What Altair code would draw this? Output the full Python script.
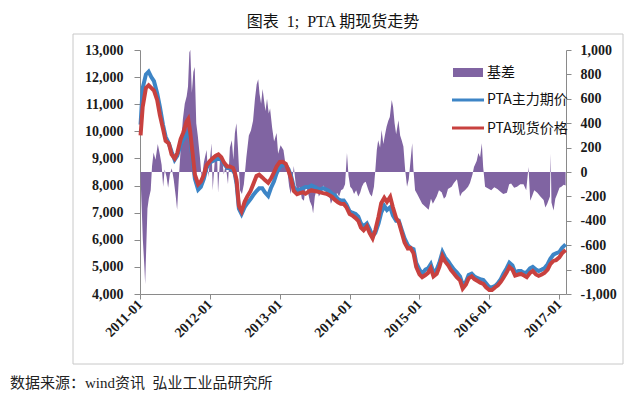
import altair as alt
import pandas as pd

TITLE = ["图表\u00a0\u00a01;\u00a0\u00a0PTA 期现货走势"]
SOURCE = ["数据来源：wind资讯\u00a0\u00a0弘业工业品研究所"]
SERIES = ["基差", "PTA主力期价", "PTA现货价格"]
COLORS = ["#8064A2", "#3D85C6", "#C8413F"]

price_dates = [
    "2011-01-04", "2011-01-15", "2011-02-01", "2011-02-15", "2011-03-01", "2011-03-15",
    "2011-04-01", "2011-04-15", "2011-05-01", "2011-05-15", "2011-06-01", "2011-06-15",
    "2011-07-01", "2011-07-15", "2011-08-01", "2011-08-15", "2011-09-01", "2011-09-10",
    "2011-09-20", "2011-10-01", "2011-10-15", "2011-11-01", "2011-11-15", "2011-12-01",
    "2011-12-15",
    "2012-01-01", "2012-01-15", "2012-02-01", "2012-02-15", "2012-03-01", "2012-03-15",
    "2012-04-01", "2012-04-15", "2012-05-01", "2012-05-10", "2012-05-20", "2012-06-01",
    "2012-06-15", "2012-07-01", "2012-07-15", "2012-08-01", "2012-08-15", "2012-09-01",
    "2012-09-15", "2012-10-01", "2012-10-15", "2012-11-01", "2012-11-15", "2012-12-01",
    "2012-12-15",
    "2013-01-01", "2013-01-15", "2013-02-01", "2013-02-15", "2013-03-01", "2013-03-15",
    "2013-04-01", "2013-04-15", "2013-05-01", "2013-05-15", "2013-06-01", "2013-06-15",
    "2013-07-01", "2013-07-15", "2013-08-01", "2013-08-15", "2013-09-01", "2013-09-15",
    "2013-10-01", "2013-10-15", "2013-11-01", "2013-11-15", "2013-12-01", "2013-12-15",
    "2014-01-01", "2014-01-15", "2014-02-01", "2014-02-15", "2014-03-01", "2014-03-15",
    "2014-04-01", "2014-04-15", "2014-05-01", "2014-05-15", "2014-06-01", "2014-06-15",
    "2014-07-01", "2014-07-15", "2014-08-01", "2014-08-15", "2014-09-01", "2014-09-15",
    "2014-10-01", "2014-10-15", "2014-11-01", "2014-11-15", "2014-12-01", "2014-12-15",
    "2015-01-01", "2015-01-15", "2015-02-01", "2015-02-15", "2015-03-01", "2015-03-15",
    "2015-04-01", "2015-04-15", "2015-05-01", "2015-05-15", "2015-06-01", "2015-06-15",
    "2015-07-01", "2015-07-15", "2015-08-01", "2015-08-15", "2015-09-01", "2015-09-15",
    "2015-10-01", "2015-10-15", "2015-11-01", "2015-11-15", "2015-12-01", "2015-12-15",
    "2016-01-01", "2016-01-15", "2016-02-01", "2016-02-15", "2016-03-01", "2016-03-15",
    "2016-04-01", "2016-04-15", "2016-05-01", "2016-05-15", "2016-06-01", "2016-06-15",
    "2016-07-01", "2016-07-15", "2016-08-01", "2016-08-15", "2016-09-01", "2016-09-15",
    "2016-10-01", "2016-10-15", "2016-11-01", "2016-11-15", "2016-12-01", "2016-12-15",
    "2017-01-01", "2017-01-15", "2017-02-03",
]

spot = [
    9850, 10900, 11600, 11700, 11600, 11500, 11150, 10600, 10100, 9650, 9550, 9150,
    9000, 9200, 9700, 9950, 10350, 10450, 10000, 9300, 8400, 8050, 8150, 8400, 8750,
    8900, 9000, 9100, 9150, 9050, 8850, 8700, 8700, 8650, 8500, 8200, 7250,
    7050, 7400, 7600, 7800, 8050, 8350, 8400, 8300, 8200, 8100, 8250, 8480, 8700,
    8870, 8880, 8800, 8550, 8250, 7800, 7680, 7720, 7750, 7700, 7780, 7820,
    7800, 7780, 7750, 7720, 7700, 7650, 7580, 7480, 7380, 7330, 7320, 7200,
    6950, 6900, 6800, 6700, 6450, 6350, 6500, 6250, 6050, 6350, 6850, 7350,
    7550, 7400, 7580, 7200, 6800, 6650, 6250, 5900, 5680, 5700, 5500, 5000,
    4720, 4620, 4700, 4780, 4950, 4650, 4750, 5000, 5400, 5200, 5050, 4880,
    4750, 4620, 4500, 4200, 4350, 4580, 4650, 4550, 4480, 4420, 4370, 4250,
    4150, 4150, 4250, 4320, 4450, 4600, 4800, 5000, 4900, 4680, 4720, 4740,
    4680, 4620, 4780, 4850, 4720, 4670, 4720, 4780, 4900, 5100, 5220, 5250,
    5350, 5500, 5620,
]

futures = [
    10250, 11600, 12100, 12200, 12000, 11850, 11400, 10900, 10250, 9800, 9550, 9250,
    8950, 9100, 9500, 9700, 9850, 9950, 9750, 9100, 8250, 7850, 7950, 8250, 8650,
    8850, 8900, 8950, 9000, 8950, 8800, 8650, 8650, 8550, 8450, 8050, 7150,
    6950, 7200, 7350, 7500, 7650, 7800, 7900, 7900, 7750, 7620, 7900, 8150, 8450,
    8700, 8750, 8750, 8600, 8350, 7950, 7800, 7850, 7900, 7950, 7950, 8000,
    7950, 7900, 7850, 7900, 7850, 7800, 7700, 7650, 7500, 7450, 7450, 7300,
    7050, 7000, 6950, 6850, 6600, 6500, 6600, 6400, 6150, 6250, 6600, 7000,
    7250, 7100, 7200, 6900, 6700, 6700, 6350, 6050, 5800, 5700, 5650, 5150,
    4900, 4750, 4900, 4950, 5100, 4800, 4900, 5150, 5550, 5350, 5200, 5050,
    4900, 4800, 4650, 4350, 4450, 4700, 4750, 4650, 4580, 4550, 4520, 4400,
    4250, 4250, 4300, 4400, 4550, 4750, 4950, 5150, 5050, 4800, 4850, 4850,
    4780, 4800, 4950, 5000, 4900, 4850, 4900, 4950, 5100, 5300, 5450, 5500,
    5550, 5700, 5830,
]

basis_dates = [
    "2011-01-04", "2011-01-09", "2011-01-16", "2011-01-24", "2011-01-28", "2011-02-03",
    "2011-02-09", "2011-02-16", "2011-02-26", "2011-03-05", "2011-03-13", "2011-03-23",
    "2011-04-04", "2011-04-14", "2011-04-24", "2011-05-02", "2011-05-10", "2011-05-20",
    "2011-05-28", "2011-06-06", "2011-06-16", "2011-06-26", "2011-07-07", "2011-07-14",
    "2011-07-22", "2011-08-02", "2011-08-13", "2011-08-23", "2011-09-02", "2011-09-09",
    "2011-09-16", "2011-09-21", "2011-09-29", "2011-10-07", "2011-10-14", "2011-10-22",
    "2011-10-30", "2011-11-10", "2011-11-20", "2011-12-01", "2011-12-15", "2011-12-24",
    "2012-01-10", "2012-01-16", "2012-01-28", "2012-02-08", "2012-02-13", "2012-02-23",
    "2012-03-04", "2012-03-14", "2012-03-24", "2012-04-05", "2012-04-15", "2012-04-25",
    "2012-05-03", "2012-05-11", "2012-05-19", "2012-05-27", "2012-06-07", "2012-06-17",
    "2012-06-27", "2012-07-10", "2012-07-23", "2012-08-03", "2012-08-14", "2012-08-24",
    "2012-09-02", "2012-09-10", "2012-09-17", "2012-09-25", "2012-10-03", "2012-10-11",
    "2012-10-18", "2012-10-26", "2012-11-04", "2012-11-11", "2012-11-22", "2012-12-02",
    "2012-12-15", "2012-12-23",
    "2013-01-05", "2013-01-20", "2013-01-29", "2013-02-09", "2013-02-19", "2013-02-27",
    "2013-03-07", "2013-03-15", "2013-03-25", "2013-04-05", "2013-04-16", "2013-04-26",
    "2013-05-07", "2013-05-17", "2013-05-27", "2013-06-07", "2013-06-18", "2013-06-24",
    "2013-07-03", "2013-07-14", "2013-07-24", "2013-08-04", "2013-08-15", "2013-08-25",
    "2013-09-05", "2013-09-15", "2013-09-25", "2013-10-06", "2013-10-16", "2013-10-27",
    "2013-11-07", "2013-11-17", "2013-11-28", "2013-12-08", "2013-12-18", "2013-12-26",
    "2014-01-04", "2014-01-14", "2014-01-24", "2014-02-04", "2014-02-15", "2014-02-25",
    "2014-03-06", "2014-03-16", "2014-03-26", "2014-04-07", "2014-04-17", "2014-04-27",
    "2014-05-08", "2014-05-15", "2014-05-23", "2014-05-30", "2014-06-09", "2014-06-17",
    "2014-06-26", "2014-07-04", "2014-07-13", "2014-07-22", "2014-07-30", "2014-08-09",
    "2014-08-16", "2014-08-24", "2014-09-01", "2014-09-13", "2014-09-22", "2014-09-30",
    "2014-10-09", "2014-10-18", "2014-10-28", "2014-11-06", "2014-11-24", "2014-11-30",
    "2014-12-09", "2014-12-20",
    "2015-01-05", "2015-01-15", "2015-02-01", "2015-02-18", "2015-03-02", "2015-03-12",
    "2015-04-01", "2015-04-13", "2015-04-27", "2015-05-09", "2015-05-19", "2015-05-30",
    "2015-06-18", "2015-06-30", "2015-07-16", "2015-08-01", "2015-08-11", "2015-08-27",
    "2015-09-12", "2015-09-22", "2015-10-05", "2015-10-13", "2015-10-27", "2015-11-05",
    "2015-11-14", "2015-11-23", "2015-11-30", "2015-12-10", "2015-12-26",
    "2016-01-11", "2016-01-27", "2016-02-12", "2016-02-27", "2016-03-14", "2016-04-02",
    "2016-04-14", "2016-04-24", "2016-05-10", "2016-05-25", "2016-06-11", "2016-06-28",
    "2016-07-12", "2016-07-24", "2016-08-02", "2016-08-11", "2016-08-23", "2016-09-08",
    "2016-09-24", "2016-10-11", "2016-10-20", "2016-10-30", "2016-11-13", "2016-11-17",
    "2016-11-21", "2016-12-02", "2016-12-11", "2016-12-21", "2017-01-02", "2017-01-12",
    "2017-01-24", "2017-02-03",
]

basis = [
    -50, -250, -560, -780, -920, -600, -300, -220, -150, 50, 160, 100,
    230, 150, 60, -120, 20, -40, -130, -20, 30, -60, -200, -310,
    -80, 200, 430, 560, 620, 700, 980, 1000, 650, 820, 860, 400,
    300, 125, -60, 80, 180, -40,
    235, -150, 120, 140, -170, 100, 140, -20, 60, -100, 200, 260,
    100, 320, 400, 200, -150, -180, -100, 120, 300, 340, 420, 600,
    720, 760, 640, 560, 680, 580, 500, 600, 480, 520, 360, 250,
    320, 150,
    220, 180, 80, 10, -120, -180, -80, 50, -100, -160, -120, -220,
    -235, -110, -160, -240, -280, -340, -200, -130, -200, -170, -110, -130,
    -200, -180, -260, -220, -240, -170, -200, -150, -140, -100, 155, -30,
    -120, -140, -180, -150, -200, -170, -120, -90, -80, -140, -180, -200,
    -120, 10, 180, 260, 200, 345, 230, 300, 370, 420, 450, 590,
    535, 400, 310, 425, 300, 260, 210, 20, -120, -60, 235, 30,
    -150, -180,
    -230, -260, -285, -310, -220, -260, -200, -150, -165, -220, -200, -140,
    -120, -90, -60, -200, -170, -150, -120, -90, -20, 40, 90, 155,
    120, 235, 40, -120, -135,
    -150, -125, -140, -160, -180, -170, -100, -95, -130, -120, -100, -100,
    -150, 40, -235, -200, -150, -170, -200, -230, -290, -260, -200, 150,
    -250, -315, -220, -180, -130, -120, -105, -110,
]

year_ticks = list(range(2011, 2018))
left_ticks = list(range(4000, 13001, 1000))
right_ticks = list(range(-1000, 1001, 200))

df_p = pd.DataFrame({"date": price_dates, "spot": spot, "fut": futures})
df_b = pd.DataFrame({"date": basis_dates, "basis": basis})

AXIS_FONT = "Liberation Serif"
CJK = "Liberation Serif, Noto Sans CJK SC"

x_scale = alt.Scale(domain=[alt.DateTime(year=2011, month=1, date=1),
                            alt.DateTime(year=2017, month=2, date=5)])
x_axis = alt.Axis(
    values=[alt.DateTime(year=y, month=1, date=1) for y in year_ticks],
    format="%Y-%m", labelAngle=315, labelAlign="right", labelBaseline="middle",
    labelPadding=3, labelOverlap=False, labelFlush=False, tickSize=5, grid=False,
)
x_enc = alt.X("date:T", scale=x_scale, axis=x_axis, title=None)

area = alt.Chart(df_b).mark_area(color=COLORS[0], opacity=1).encode(
    x=x_enc,
    y=alt.Y("basis:Q", title=None,
            scale=alt.Scale(domain=[-1000, 1000], nice=False),
            axis=alt.Axis(orient="right", values=right_ticks, format=",d",
                          labelExpr="replace(datum.label, '\u2212', '-')",
                          tickSize=5, labelPadding=9, labelOverlap=False,
                          grid=False)),
)

left_scale = alt.Scale(domain=[4000, 13000], nice=False)
left_axis = alt.Axis(orient="left", values=left_ticks, format=",d",
                     tickSize=6, labelPadding=11, labelOverlap=False,
                     grid=False)
fut_line = alt.Chart(df_p).mark_line(color=COLORS[1], strokeWidth=4).encode(
    x=x_enc, y=alt.Y("fut:Q", title=None, scale=left_scale, axis=left_axis))
spot_line = alt.Chart(df_p).mark_line(color=COLORS[2], strokeWidth=4).encode(
    x=x_enc, y=alt.Y("spot:Q", title=None, scale=left_scale, axis=left_axis))
lines = alt.layer(fut_line, spot_line)

one = pd.DataFrame({"t": TITLE})
title = alt.Chart(one).mark_text(font=CJK, fontSize=16, align="center",
                                 baseline="middle", color="#111").encode(
    x=alt.value(193), y=alt.value(-28), text="t:N")
src = pd.DataFrame({"t": SOURCE})
footer = alt.Chart(src).mark_text(font=CJK, fontSize=15, align="left",
                                  baseline="middle", color="#222").encode(
    x=alt.value(-130), y=alt.value(333), text="t:N")
frame = alt.Chart(one).mark_rect(fillOpacity=0, stroke="#C8C8C8",
                                 strokeWidth=1).encode(
    x=alt.value(-67), x2=alt.value(483), y=alt.value(-16), y2=alt.value(314))

leg_font = "Noto Sans CJK SC"
leg_sq = alt.Chart(one).mark_rect(color=COLORS[0]).encode(
    x=alt.value(313), x2=alt.value(343), y=alt.value(18), y2=alt.value(27))
leg_b = alt.Chart(one).mark_rule(color=COLORS[1], strokeWidth=3).encode(
    x=alt.value(312), x2=alt.value(344), y=alt.value(50))
leg_r = alt.Chart(one).mark_rule(color=COLORS[2], strokeWidth=3).encode(
    x=alt.value(312), x2=alt.value(344), y=alt.value(78))
leg_txt = []
for lbl, yy in zip(SERIES, [23, 50, 79]):
    leg_txt.append(
        alt.Chart(pd.DataFrame({"t": [lbl]})).mark_text(
            font=leg_font, fontSize=14, align="left", baseline="middle",
            color="#111").encode(x=alt.value(347), y=alt.value(yy), text="t:N"))

chart = alt.layer(
    frame, area, lines, title, footer, leg_sq, leg_b, leg_r, *leg_txt
).resolve_scale(y="independent").properties(
    width=426, height=244,
    background="white",
    autosize=alt.AutoSizeParams(type="none"),
    padding={"left": 132, "top": 42, "right": 66, "bottom": 97},
).configure_view(stroke="transparent").configure_axis(
    labelFont=AXIS_FONT, labelFontSize=14, labelFontWeight="bold",
    labelColor="#1a1a1a", domainColor="#8a8a8a", tickColor="#8a8a8a",
    grid=False,
)

chart.save("out.html", embed_options={"renderer": "svg", "actions": False})
